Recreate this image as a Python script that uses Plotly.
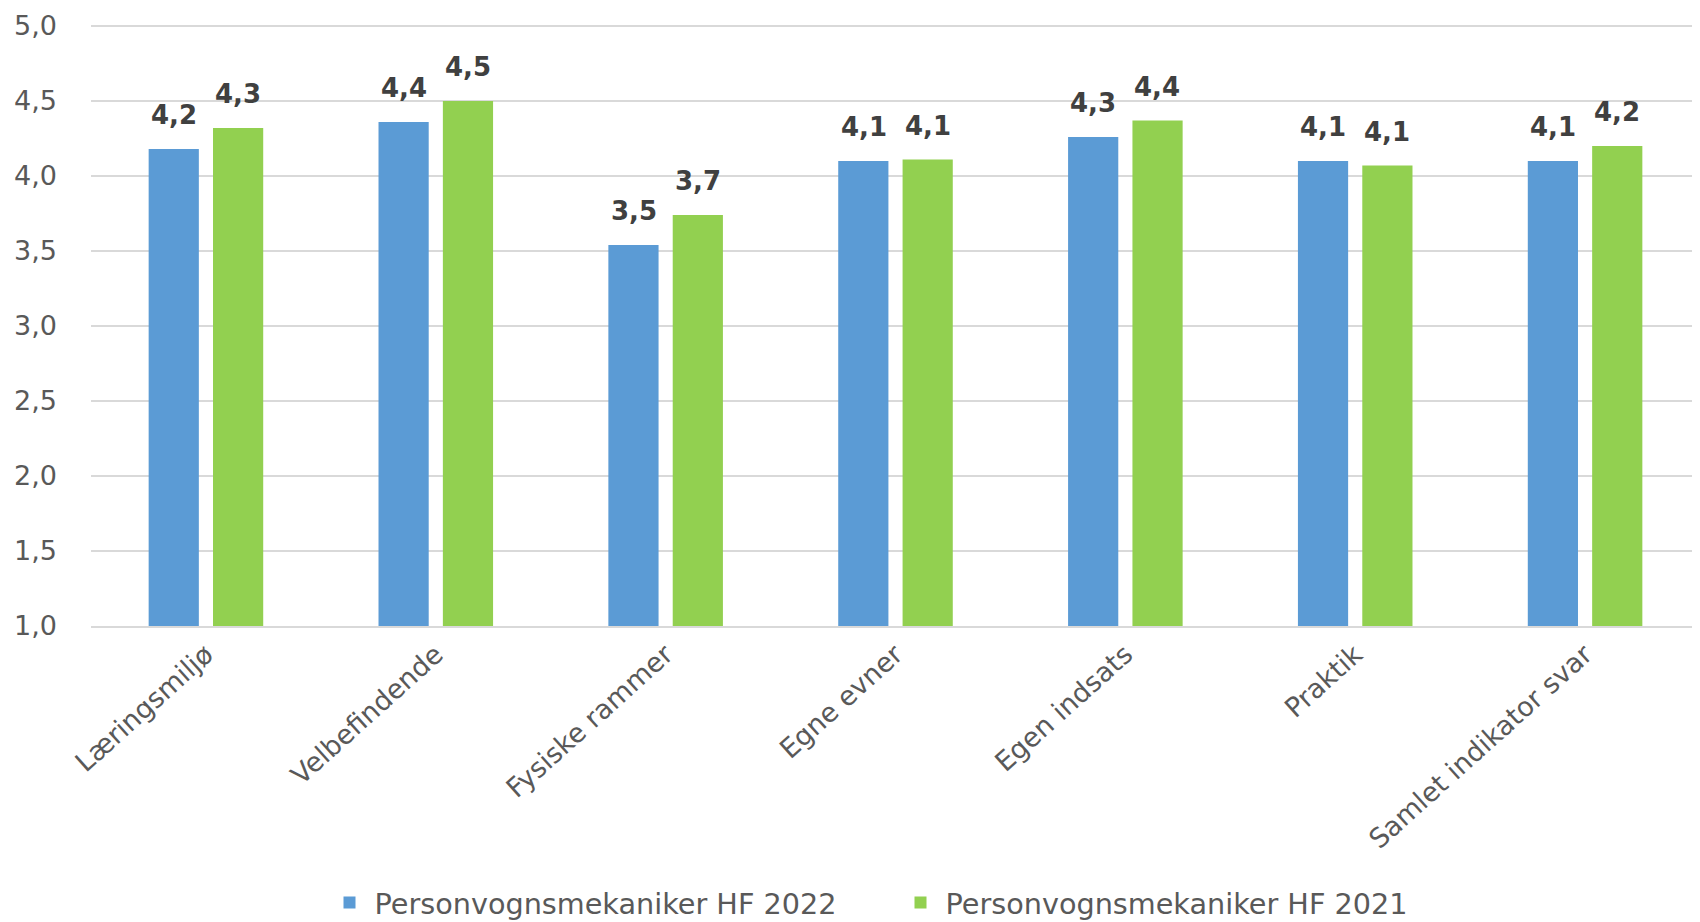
import plotly.graph_objects as go

categories = ["Læringsmiljø", "Velbefindende", "Fysiske rammer", "Egne evner",
              "Egen indsats", "Praktik", "Samlet indikator svar"]
series_2022_name = "Personvognsmekaniker HF 2022"
series_2021_name = "Personvognsmekaniker HF 2021"
values_2022 = [4.18, 4.36, 3.54, 4.10, 4.26, 4.10, 4.10]
values_2021 = [4.32, 4.50, 3.74, 4.11, 4.37, 4.07, 4.20]
y_ticks = [1.0, 1.5, 2.0, 2.5, 3.0, 3.5, 4.0, 4.5, 5.0]

FONT = "DejaVu Sans"
TXT = "#595959"
LBL = "#404040"

fig = go.Figure()
fig.add_trace(go.Bar(
    x=categories, y=values_2022, name=series_2022_name,
    marker=dict(color="#5B9BD5", line=dict(width=0)),
))
fig.add_trace(go.Bar(
    x=categories, y=values_2021, name=series_2021_name,
    marker=dict(color="#92D050", line=dict(width=0)),
))

# data labels above each bar (grouped offsets in px)
def fmt(v):
    return f"{v:.1f}".replace(".", ",")

annotations = []
for series, shift in ((values_2022, -32), (values_2021, 32)):
    for c, v in zip(categories, series):
        annotations.append(dict(
            x=c, y=v, xref="x", yref="y", text=fmt(v), showarrow=False,
            xshift=shift, yshift=17, yanchor="bottom", xanchor="center",
            font=dict(family=FONT, size=26, color=LBL, weight="bold"),
        ))

# page body has an 8px margin; figure sized to fit the 1700x922 window
fig.update_layout(
    width=1692, height=914,
    margin=dict(l=83, r=0, t=15, b=296, autoexpand=False),
    paper_bgcolor="white", plot_bgcolor="white",
    barmode="group", bargap=0.44, bargroupgap=0.22,
    separators=",.",
    font=dict(family=FONT, size=26, color=TXT),
    showlegend=True,
    legend=dict(orientation="h", x=0.5, xanchor="center",
                yref="container", y=0.021, yanchor="middle",
                font=dict(family=FONT, size=28.7, color=TXT),
                entrywidth=516, itemwidth=40, bgcolor="rgba(0,0,0,0)"),
    annotations=annotations,
)
fig.update_yaxes(
    range=[1, 5.02], tickvals=y_ticks, tickformat=".1f",
    showgrid=True, gridcolor="#d9d9d9", gridwidth=1.5,
    zeroline=False, showline=False, automargin=False,
    tickfont=dict(family=FONT, size=27, color=TXT),
    ticklabelstandoff=33,
)
fig.update_xaxes(
    showline=True, linecolor="#d9d9d9", linewidth=2, automargin=False,
    tickangle=-42, tickfont=dict(family=FONT, size=27, color=TXT),
    ticks="",
)

fig.write_html("out.html")
